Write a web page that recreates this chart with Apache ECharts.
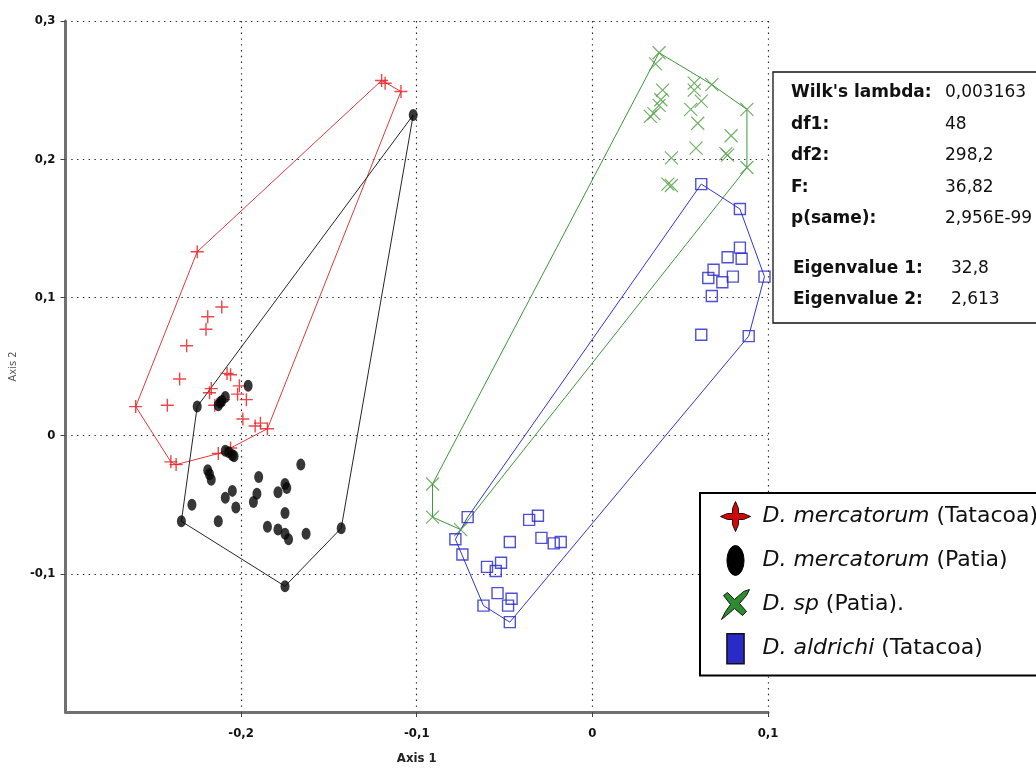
<!DOCTYPE html>
<html>
<head>
<meta charset="utf-8">
<title>Discriminant analysis – Axis 1 vs Axis 2</title>
<script src="https://cdn.jsdelivr.net/npm/echarts@6/dist/echarts.min.js"></script>
<style>
  html, body { margin: 0; padding: 0; background: #fff; }
  #chart { width: 1036px; height: 770px; }
</style>
</head>
<body>
<div id="chart"></div>
<script>
// Axis ranges and tick step (scores on discriminant axes 1 and 2)
const xRange = [-0.3, 0.1];
const yRange = [-0.2, 0.3];
const tickStep = 0.1;
const xAxisName = 'Axis 1';
const yAxisName = 'Axis 2';

// Group names (legend)
const groupNames = [
  'D. mercatorum (Tatacoa)',
  'D. mercatorum (Patia)',
  'D. sp (Patia).',
  'D. aldrichi (Tatacoa)'
];

// Scores [axis 1, axis 2] for each specimen
const mercatorumTatacoa = [
  [-0.120, 0.257], [-0.118, 0.255], [-0.109, 0.249], [-0.225, 0.133],
  [-0.211, 0.093], [-0.219, 0.086], [-0.220, 0.077], [-0.231, 0.065],
  [-0.235, 0.041], [-0.208, 0.045], [-0.206, 0.044], [-0.217, 0.034],
  [-0.218, 0.031], [-0.201, 0.036], [-0.202, 0.030], [-0.197, 0.026],
  [-0.242, 0.022], [-0.260, 0.021], [-0.215, 0.022], [-0.210, 0.026],
  [-0.199, 0.012], [-0.192, 0.007], [-0.189, 0.009], [-0.185, 0.005],
  [-0.213, -0.013], [-0.206, -0.009], [-0.240, -0.019], [-0.237, -0.021]
];
const mercatorumPatia = [
  [-0.102, 0.232], [-0.196, 0.036], [-0.225, 0.021], [-0.211, 0.025],
  [-0.212, 0.024], [-0.209, 0.028], [-0.213, 0.022], [-0.207, -0.012],
  [-0.205, -0.014], [-0.209, -0.011], [-0.204, -0.015], [-0.219, -0.025],
  [-0.217, -0.032], [-0.218, -0.028], [-0.190, -0.030], [-0.166, -0.021],
  [-0.175, -0.035], [-0.179, -0.041], [-0.174, -0.038], [-0.191, -0.042],
  [-0.193, -0.048], [-0.205, -0.040], [-0.209, -0.045], [-0.203, -0.052],
  [-0.228, -0.050], [-0.234, -0.062], [-0.213, -0.062], [-0.175, -0.056],
  [-0.185, -0.066], [-0.179, -0.068], [-0.175, -0.071], [-0.173, -0.075],
  [-0.163, -0.071], [-0.143, -0.067], [-0.175, -0.109]
];
const spPatia = [
  [0.038, 0.277], [0.036, 0.269], [0.040, 0.250], [0.039, 0.243],
  [0.038, 0.239], [0.033, 0.231], [0.035, 0.233], [0.058, 0.255],
  [0.058, 0.250], [0.068, 0.254], [0.062, 0.242], [0.056, 0.236],
  [0.060, 0.226], [0.088, 0.236], [0.079, 0.217], [0.059, 0.208],
  [0.076, 0.204], [0.077, 0.203], [0.045, 0.201], [0.088, 0.194],
  [0.043, 0.182], [0.045, 0.181], [-0.091, -0.035], [-0.091, -0.059],
  [-0.075, -0.068]
];
const aldrichiTatacoa = [
  [0.062, 0.182], [0.084, 0.164], [0.084, 0.136], [0.077, 0.129],
  [0.085, 0.128], [0.069, 0.120], [0.066, 0.114], [0.074, 0.111],
  [0.080, 0.115], [0.068, 0.101], [0.098, 0.115], [0.062, 0.073],
  [0.089, 0.072], [-0.071, -0.059], [-0.078, -0.075], [-0.074, -0.086],
  [-0.047, -0.077], [-0.036, -0.061], [-0.031, -0.058], [-0.029, -0.074],
  [-0.022, -0.078], [-0.018, -0.077], [-0.060, -0.095], [-0.055, -0.098],
  [-0.052, -0.092], [-0.062, -0.123], [-0.054, -0.114], [-0.046, -0.118],
  [-0.048, -0.123], [-0.047, -0.135]
];

// Test statistics
const statLabels = ["Wilk's lambda:", 'df1:', 'df2:', 'F:', 'p(same):', 'Eigenvalue 1:', 'Eigenvalue 2:'];
const statValues = ['0,003163', '48', '298,2', '36,82', '2,956E-99', '32,8', '2,613'];

// ---------------------------------------------------------------------------

// Convex hull (monotone chain), returned as a closed ring
function convexHull(points) {
  const p = points.slice().sort((a, b) => a[0] - b[0] || a[1] - b[1]);
  const cross = (o, a, b) => (a[0] - o[0]) * (b[1] - o[1]) - (a[1] - o[1]) * (b[0] - o[0]);
  const lower = [];
  for (const pt of p) {
    while (lower.length >= 2 && cross(lower[lower.length - 2], lower[lower.length - 1], pt) <= 0) lower.pop();
    lower.push(pt);
  }
  const upper = [];
  for (let i = p.length - 1; i >= 0; i--) {
    const pt = p[i];
    while (upper.length >= 2 && cross(upper[upper.length - 2], upper[upper.length - 1], pt) <= 0) upper.pop();
    upper.push(pt);
  }
  upper.pop(); lower.pop();
  const ring = lower.concat(upper);
  ring.push(ring[0]);
  return ring;
}

const fmt = v => {
  const r = Math.round(v * 10) / 10;
  return (r === 0 ? '0' : String(r)).replace('.', ',');
};

const narrowBold = '"Liberation Sans Narrow", "DejaVu Sans Condensed", "Liberation Sans", sans-serif';

const groups = [
  { data: mercatorumTatacoa, hull: '#e23a3a',
    symbol: 'path://M0,6 L12,6 M6,0 L6,12', size: 13,
    style: { color: 'rgba(0,0,0,0)', borderColor: '#e8181c', borderWidth: 1.4 },
    icon: 'path://M15,0 L18,7 L18,12 L23,12 L30,15 L23,18 L18,18 L18,23 L15,30 L12,23 L12,18 L7,18 L0,15 L7,12 L12,12 L12,7 Z',
    iconStyle: { color: '#cc0a0a', borderColor: '#300000', borderWidth: 1, opacity: 1 } },
  { data: mercatorumPatia, hull: '#262626',
    symbol: 'circle', size: [9, 12],
    style: { color: '#050505' },
    icon: 'path://M8,0 A8,14 0 1,1 8,28 A8,14 0 1,1 8,0 Z',
    iconStyle: { color: '#000', borderColor: '#000', borderWidth: 1, opacity: 1 } },
  { data: spPatia, hull: '#3f963c',
    symbol: 'path://M0,0 L12,12 M12,0 L0,12', size: 13,
    style: { color: 'rgba(0,0,0,0)', borderColor: '#4f9e42', borderWidth: 1.2 },
    icon: 'path://M2,30 L6,22 L11,15 L4,6 L8,3 L15,10 L24,2 L30,0 L27,6 L20,14 L27,22 L23,26 L15,19 L7,26 Z',
    iconStyle: { color: '#2f8a30', borderColor: '#0c1a0c', borderWidth: 1, opacity: 1 } },
  { data: aldrichiTatacoa, hull: '#3434d4',
    symbol: 'rect', size: 11,
    style: { color: 'rgba(255,255,255,0)', borderColor: '#2424cc', borderWidth: 1.4 },
    icon: 'path://M0,0 L16,0 L16,28 L0,28 Z',
    iconStyle: { color: '#2a2ac8', borderColor: '#111', borderWidth: 1.5, opacity: 1 } }
];

const series = [];
groups.forEach((g, i) => {
  series.push({
    name: groupNames[i] + ' – hull',
    type: 'line',
    data: convexHull(g.data),
    showSymbol: false,
    symbol: 'none',
    silent: true,
    lineStyle: { color: g.hull, width: 1 },
    z: 2
  });
});
groups.forEach((g, i) => {
  series.push({
    name: groupNames[i],
    type: 'scatter',
    data: g.data,
    symbol: g.symbol,
    symbolSize: g.size,
    itemStyle: g.style,
    z: 3
  });
});

// Statistics panel: label column and value column
const statRowY = i => 93 + i * 31.5 + (i >= 5 ? 18 : 0);
const statGraphics = [{
  type: 'rect', x: 773, y: 72, z: 100,
  shape: { x: 0, y: 0, width: 290, height: 251 },
  style: { fill: '#fff', stroke: '#111', lineWidth: 1.3 }
}];
statLabels.forEach((label, i) => {
  statGraphics.push({
    type: 'text', x: 791 + (i >= 5 ? 2 : 0), y: statRowY(i), z: 101,
    style: { text: label, font: 'bold 17px "DejaVu Sans", sans-serif', fill: '#111', verticalAlign: 'middle', align: 'left' }
  });
  statGraphics.push({
    type: 'text', x: 945 + (i >= 5 ? 6 : 0), y: statRowY(i), z: 101,
    style: { text: statValues[i], font: '17px "DejaVu Sans", sans-serif', fill: '#111', verticalAlign: 'middle', align: 'left' }
  });
});

const legendFont = '"DejaVu Sans", sans-serif';
const legendRich = {
  i: { fontStyle: 'italic', fontFamily: legendFont, fontSize: 22, color: '#111' },
  n: { fontFamily: legendFont, fontSize: 22, color: '#111' }
};

const option = {
  animation: false,
  backgroundColor: '#fff',
  grid: { left: 63, right: 268, top: 21, bottom: 58 },
  xAxis: {
    type: 'value', min: xRange[0], max: xRange[1], interval: tickStep,
    name: xAxisName, nameLocation: 'middle', nameGap: 40,
    nameTextStyle: { fontFamily: narrowBold, fontWeight: 'bold', fontSize: 13, color: '#222' },
    axisLine: { show: true, onZero: false, lineStyle: { color: '#707070', width: 3 } },
    axisTick: { show: true, length: 5, lineStyle: { color: '#444', width: 1 } },
    axisLabel: { showMinLabel: false, formatter: fmt, margin: 15,
      fontFamily: narrowBold, fontWeight: 'bold', fontSize: 13, color: '#111' },
    splitLine: { show: true, lineStyle: { color: '#2a2a2a', width: 1.2, type: [1.4, 4.4] } }
  },
  yAxis: {
    type: 'value', min: yRange[0], max: yRange[1], interval: tickStep,
    name: yAxisName, nameLocation: 'middle', nameGap: 37,
    nameTextStyle: { fontFamily: narrowBold, fontSize: 11, color: '#555' },
    axisLine: { show: true, onZero: false, lineStyle: { color: '#707070', width: 3 } },
    axisTick: { show: true, length: 5, lineStyle: { color: '#444', width: 1 } },
    axisLabel: { showMinLabel: false, formatter: fmt, margin: 10,
      fontFamily: narrowBold, fontWeight: 'bold', fontSize: 13, color: '#111' },
    splitLine: { show: true, lineStyle: { color: '#2a2a2a', width: 1.2, type: [1.4, 4.4] } }
  },
  legend: {
    orient: 'vertical',
    left: 700, top: 493,
    padding: [8, 12, 11, 20],
    itemWidth: 44, itemHeight: 30, itemGap: 13,
    backgroundColor: '#fff',
    borderColor: '#000', borderWidth: 2,
    selectedMode: false,
    data: groupNames.map((n, i) => ({ name: n, icon: groups[i].icon, itemStyle: groups[i].iconStyle })),
    formatter: name => {
      const m = name.match(/^(D\. \S+)(.*)$/);
      return m ? '{i|' + m[1] + '}{n|' + m[2] + '}' : name;
    },
    textStyle: { fontFamily: legendFont, fontSize: 22, color: '#111', rich: legendRich }
  },
  graphic: statGraphics,
  series: series
};

const chart = echarts.init(document.getElementById('chart'), null, { renderer: 'canvas' });
chart.setOption(option);
</script>
</body>
</html>
